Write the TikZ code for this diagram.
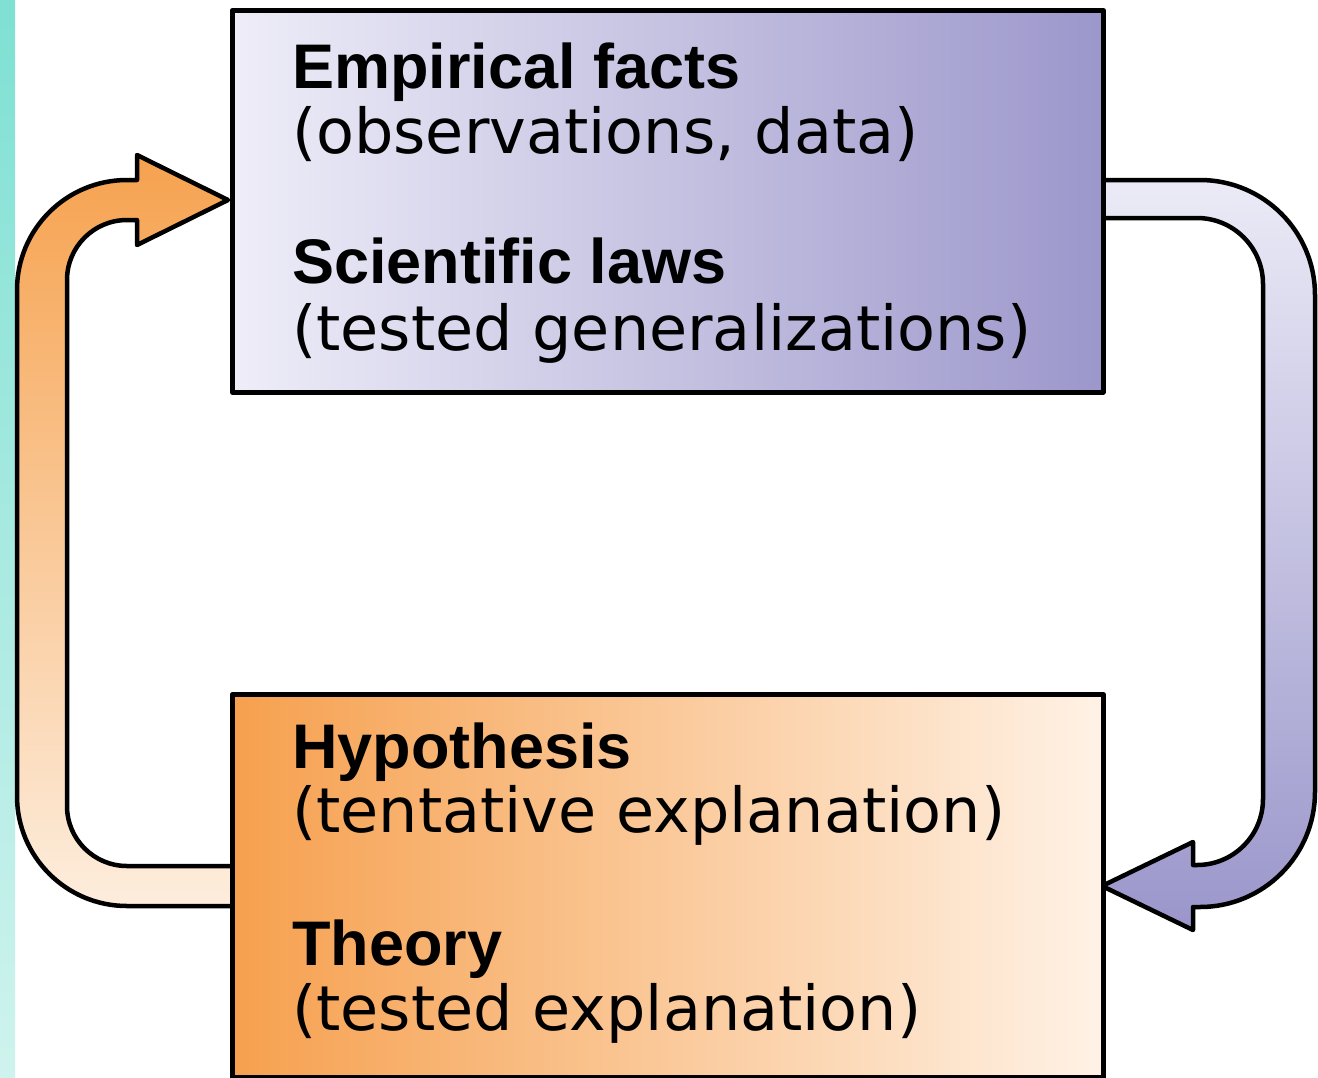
\documentclass[tikz,border=0pt]{standalone}
\usepackage{fontspec}
\setmainfont{DejaVu Sans}
\newfontfamily\hdfont{Liberation Sans}
\definecolor{lavL}{HTML}{EEEDF8}
\definecolor{lavR}{HTML}{9C97CB}
\definecolor{orL}{HTML}{F6A04E}
\definecolor{orR}{HTML}{FFF2E6}
\definecolor{arOrTop}{HTML}{F6A24F}
\definecolor{arOrMid}{HTML}{FAC084}
\definecolor{arOrBot}{HTML}{FDEDDD}
\definecolor{arLavTop}{HTML}{EBEAF6}
\definecolor{arLavBot}{HTML}{9A96CB}
\definecolor{tealTop}{HTML}{7FE0D3}
\definecolor{tealBot}{HTML}{CFF3EE}
\begin{document}
\begin{tikzpicture}[x=1pt,y=-1pt,line join=round,
  boxst/.style={draw=black,line width=4.5pt,inner sep=0pt,minimum width=871pt,anchor=north west},
  arrowst/.style={draw=black,line width=4.5pt},
  headtxt/.style={anchor=base west,inner sep=0pt,font=\hdfont\bfseries\fontsize{63}{70}\selectfont},
  subtxt/.style={anchor=base west,inner sep=0pt,font=\fontsize{62}{70}\selectfont}]
\useasboundingbox (0,0) rectangle (1318,1077);
\fill[white] (0,0) rectangle (1318,1077);
\fill[top color=tealTop,bottom color=tealBot] (0,0) rectangle (15,1077);
% left (orange) arrow
\draw[arrowst,top color=arOrTop,middle color=arOrMid,bottom color=arOrBot]
  (230,906) -- (127,906) .. controls (66.25,906) and (17,856.75) .. (17,796)
  -- (17,290) .. controls (17,229.25) and (66.25,180) .. (127,180)
  -- (137,180) -- (137,155) -- (228,200) -- (137,245) -- (137,220) -- (127,220)
  .. controls (93.86,220) and (67,246.86) .. (67,280)
  -- (67,806) .. controls (67,839.14) and (93.86,866) .. (127,866) -- (230,866);
% right (lavender) arrow
\draw[arrowst,top color=arLavTop,bottom color=arLavBot]
  (1101,180) -- (1200,180) .. controls (1263.5,180) and (1315,231.5) .. (1315,295)
  -- (1315,792) .. controls (1315,855.5) and (1263.5,907) .. (1200,907)
  -- (1193,907) -- (1193,930) -- (1102,886) -- (1193,842) -- (1193,865) -- (1197,865)
  .. controls (1233.45,865) and (1263,835.45) .. (1263,799)
  -- (1263,284) .. controls (1263,247.55) and (1233.45,218) .. (1197,218) -- (1101,218);
% boxes
\node[boxst,minimum height=382pt,left color=lavL,right color=lavR] (top) at (230,8) {};
\node[boxst,minimum height=383pt,left color=orL,right color=orR] (bot) at (230,692) {};
% texts
\node[headtxt] (t1) at (292,88) {Empirical facts};
\node[subtxt] (t2) at (292,153) {(observations, data)};
\node[headtxt] (t3) at (292,283) {Scientific laws};
\node[subtxt] (t4) at (292,350) {(tested generalizations)};
\node[headtxt] (t5) at (292,768) {Hypothesis};
\node[subtxt] (t6) at (292,832) {(tentative explanation)};
\node[headtxt] (t7) at (292,965) {Theory};
\node[subtxt] (t8) at (292,1030) {(tested explanation)};
\end{tikzpicture}
\end{document}
